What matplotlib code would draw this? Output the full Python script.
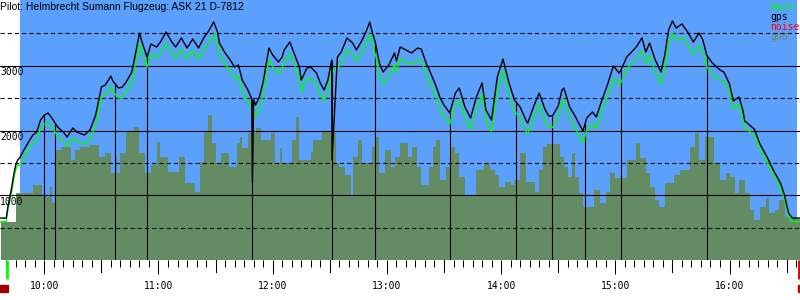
import matplotlib
matplotlib.use("Agg")
import matplotlib.pyplot as plt
from matplotlib.patches import Rectangle
import numpy as np

plt.rcParams["lines.scale_dashes"] = False

TITLE = "Pilot: Helmbrecht Sumann Flugzeug: ASK 21 D-7812"

# flight log: time, gps altitude, baro altitude (m)
log_time = ["09:37", "09:40", "09:41", "09:42", "09:43", "09:44", "09:45", "09:46",
            "09:47", "09:49", "09:52", "09:54", "09:56", "09:58", "10:00", "10:02",
            "10:04", "10:07", "10:10", "10:12", "10:15", "10:17", "10:21", "10:24",
            "10:27", "10:30", "10:32", "10:35", "10:36", "10:39", "10:41", "10:43",
            "10:46", "10:48", "10:50", "10:51", "10:54", "10:56", "10:59", "11:01",
            "11:04", "11:07", "11:09", "11:12", "11:15", "11:18", "11:21", "11:24",
            "11:26", "11:29", "11:31", "11:32", "11:35", "11:37", "11:40", "11:42",
            "11:44", "11:47", "11:49", "11:50", "11:51", "11:53", "11:55", "11:58",
            "12:00", "12:03", "12:05", "12:06", "12:09", "12:12", "12:14", "12:15",
            "12:18", "12:20", "12:23", "12:25", "12:27", "12:29", "12:31", "12:34",
            "12:36", "12:39", "12:42", "12:44", "12:47", "12:49", "12:51", "12:52",
            "12:54", "12:56", "12:58", "13:01", "13:04", "13:05", "13:07", "13:10",
            "13:13", "13:16", "13:18", "13:21", "13:23", "13:26", "13:28", "13:30",
            "13:33", "13:36", "13:38", "13:41", "13:44", "13:47", "13:50", "13:52",
            "13:55", "13:58", "14:01", "14:04", "14:07", "14:10", "14:13", "14:14",
            "14:17", "14:20", "14:23", "14:25", "14:27", "14:30", "14:32", "14:33",
            "14:36", "14:38", "14:41", "14:43", "14:45", "14:48", "14:50", "14:53",
            "14:56", "14:59", "15:02", "15:03", "15:06", "15:09", "15:11", "15:14",
            "15:16", "15:18", "15:21", "15:24", "15:26", "15:28", "15:30", "15:32",
            "15:35", "15:38", "15:41", "15:44", "15:46", "15:48", "15:51", "15:55",
            "15:57", "16:00", "16:02", "16:05", "16:07", "16:08", "16:13", "16:16",
            "16:20", "16:23", "16:27", "16:29", "16:31", "16:33", "16:37"]
gps_alt = [650, 650, 850, 990, 1145, 1330, 1470, 1546,
           1577, 1685, 1840, 1932, 1978, 2163, 2240, 2271,
           2194, 2055, 1978, 1901, 2040, 1978, 1932, 2009,
           2240, 2672, 2703, 2842, 2765, 2657, 2672, 2750,
           2904, 3197, 3506, 3398, 3135, 3336, 3290, 3367,
           3521, 3367, 3290, 3429, 3274, 3413, 3274, 3444,
           3521, 3676, 3521, 3351, 3197, 3120, 2981, 3012,
           2780, 2626, 2490, 2472, 2395, 2518, 2750, 3274,
           3166, 3058, 3135, 3243, 3367, 3135, 2981, 2780,
           2966, 2981, 2888, 2734, 2626, 2780, 3089, 3135,
           3212, 3429, 3351, 3243, 3398, 3521, 3676, 3552,
           3351, 3043, 2904, 3012, 3197, 3074, 3290, 3243,
           3197, 3274, 3259, 3012, 2888, 2672, 2503, 2395,
           2271, 2580, 2657, 2364, 2194, 2518, 2734, 2318,
           2163, 2827, 3104, 2750, 2472, 2364, 2163, 2117,
           2364, 2580, 2333, 2225, 2225, 2379, 2626, 2657,
           2364, 2271, 2102, 1994, 2194, 2287, 2210, 2472,
           2719, 2996, 2888, 2935, 3135, 3228, 3290, 3429,
           3212, 3351, 3089, 2904, 3166, 3552, 3691, 3583,
           3645, 3521, 3367, 3506, 3398, 3166, 3043, 2935,
           2904, 2719, 2457, 2518, 2318, 2148, 2025, 1793,
           1577, 1392, 1176, 991, 728, 651, 651]
baro_alt = [595, 595, 800, 930, 1080, 1260, 1400, 1470,
            1460, 1560, 1720, 1810, 1850, 2030, 2100, 2130,
            2060, 1910, 1830, 1760, 1890, 1830, 1790, 1860,
            2090, 2520, 2550, 2680, 2610, 2500, 2520, 2600,
            2750, 3040, 3340, 3240, 2980, 3170, 3130, 3200,
            3340, 3200, 3120, 3260, 3100, 3240, 3100, 3270,
            3340, 3490, 3340, 3180, 3020, 2950, 2810, 2840,
            2610, 2450, 2320, 2290, 2210, 2340, 2570, 3100,
            2990, 2880, 2960, 3070, 3190, 2960, 2800, 2610,
            2790, 2810, 2710, 2560, 2450, 2610, 2920, 2960,
            3040, 3250, 3170, 3070, 3220, 3340, 3490, 3370,
            3170, 2860, 2730, 2840, 3020, 2900, 3110, 3060,
            3020, 3090, 3080, 2840, 2710, 2500, 2330, 2220,
            2100, 2410, 2480, 2190, 2020, 2340, 2560, 2150,
            1990, 2650, 2920, 2570, 2300, 2190, 1990, 1950,
            2190, 2410, 2160, 2050, 2050, 2200, 2450, 2480,
            2190, 2090, 1920, 1810, 2010, 2110, 2030, 2290,
            2540, 2810, 2700, 2750, 2950, 3050, 3110, 3240,
            3030, 3170, 2900, 2720, 2980, 3360, 3500, 3390,
            3450, 3330, 3180, 3320, 3220, 2990, 2870, 2780,
            2760, 2600, 2340, 2400, 2210, 2040, 1930, 1710,
            1500, 1320, 1110, 930, 680, 595, 595]

# short gps drop-outs
spike_time = ["11:49:20", "12:31:10"]
spike_alt = [1207, 1546]

# terrain under the glider
gnd_time = ["09:37", "09:45", "09:54", "09:59", "10:03", "10:04", "10:06", "10:09",
            "10:14", "10:16", "10:19", "10:24", "10:29", "10:32", "10:35", "10:37",
            "10:38", "10:40", "10:43", "10:47", "10:50", "10:53", "10:56", "10:59",
            "11:01", "11:05", "11:11", "11:14", "11:19", "11:22", "11:24", "11:26",
            "11:28", "11:30", "11:33", "11:37", "11:41", "11:43", "11:44", "11:47",
            "11:51", "11:54", "11:59", "12:01", "12:04", "12:05", "12:10", "12:12",
            "12:14", "12:20", "12:21", "12:26", "12:30", "12:33", "12:35", "12:38",
            "12:41", "12:42", "12:45", "12:47", "12:52", "12:54", "12:56", "12:59",
            "13:02", "13:04", "13:07", "13:11", "13:13", "13:16", "13:18", "13:22",
            "13:24", "13:26", "13:28", "13:31", "13:33", "13:36", "13:38", "13:41",
            "13:47", "13:51", "13:54", "13:57", "13:59", "14:02", "14:05", "14:07",
            "14:10", "14:13", "14:18", "14:20", "14:22", "14:24", "14:31", "14:33",
            "14:35", "14:37", "14:39", "14:41", "14:43", "14:49", "14:52", "14:55",
            "14:57", "15:00", "15:06", "15:11", "15:13", "15:16", "15:18", "15:21",
            "15:23", "15:26", "15:31", "15:34", "15:39", "15:42", "15:44", "15:47",
            "15:52", "15:55", "15:58", "16:00", "16:03", "16:05", "16:08", "16:11",
            "16:13", "16:16", "16:19", "16:21", "16:24", "16:26", "16:29", "16:32",
            "16:37"]
gnd_alt = [595, 1040, 1160, 980, 1130, 880, 1700, 1750,
           1550, 1700, 1750, 1780, 1590, 1650, 1350, 1590,
           1350, 1650, 1980, 2060, 1650, 1350, 1470, 1820,
           1590, 1360, 1590, 1190, 1050, 1520, 1980, 2240,
           1810, 1500, 1650, 1440, 1810, 1900, 1730, 1960,
           2040, 1860, 1960, 1500, 1730, 1500, 1860, 2210,
           1550, 1670, 1860, 1980, 1960, 1500, 1440, 1310,
           980, 1590, 1860, 1500, 1750, 1900, 1350, 1700,
           1440, 1590, 1810, 1590, 1750, 1440, 1160, 1440,
           1750, 1860, 1240, 1440, 1750, 1650, 1280, 1010,
           1390, 1500, 1390, 1310, 1130, 1210, 1160, 1240,
           1650, 1210, 1050, 1390, 1750, 1790, 1590, 1440,
           1280, 1650, 1280, 1040, 820, 1080, 880, 1050,
           1350, 1270, 1550, 1810, 1580, 1350, 1130, 930,
           820, 1190, 1310, 1390, 1750, 1960, 1550, 1900,
           1500, 1240, 1350, 1280, 1040, 1240, 1040, 780,
           620, 820, 960, 730, 780, 930, 670, 640,
           640]

# vertical event marks
mark_time = ["10:00", "10:05:40", "10:37", "10:54", "11:49:20", "12:31:10", "12:54",
             "13:33", "14:08", "14:27", "14:44", "15:03", "15:48"]
takeoff = "09:40:34"
landing = "16:36:30"
sky_from, sky_to = "09:47:14", "16:35:30"

hour_ticks = [10, 11, 12, 13, 14, 15, 16]
hour_labels = ["10:00", "11:00", "12:00", "13:00", "14:00", "15:00", "16:00"]
grid_solid = [1000, 2000, 3000]
grid_dash = [500, 1500, 2500, 3500]

SKY = "#5aa0fc"
GND = "#648c64"
BARO_C = "#00ff00"
MONO = "DejaVu Sans Mono"


def hours(stamp):
    f = [int(p) for p in stamp.split(":")] + [0]
    return f[0] + f[1] / 60 + f[2] / 3600


def main():
    lt = np.array([hours(s) for s in log_time])
    gps = np.array(gps_alt, float)
    baro = np.array(baro_alt, float)
    gt = np.array([hours(s) for s in gnd_time])
    mt = np.array([hours(s) for s in mark_time])

    # gps with the drop-outs merged in
    st = np.array([hours(s) for s in spike_time])
    gt_all = np.concatenate([lt, st])
    gv_all = np.concatenate([gps, spike_alt])
    order = np.argsort(gt_all, kind="stable")

    fig = plt.figure(figsize=(8, 3), dpi=100)
    ax = fig.add_axes([0, 1 - 260.2 / 300, 1, 260.2 / 300])
    ax.set_facecolor("white")
    ax.set_xlim(9.6121, 16.6173)
    ax.set_ylim(0, 4015)
    for s in ax.spines.values():
        s.set_visible(False)

    ax.axvspan(hours(sky_from), hours(sky_to), color=SKY, lw=0, zorder=0)
    ax.fill_between(gt, gnd_alt, 0, step="post", color=GND, lw=0, zorder=1)

    for v in grid_solid:
        ax.axhline(v, color="k", lw=0.8, zorder=2)
    for v in grid_dash:
        ax.axhline(v, color="k", lw=0.8, dashes=(3, 2.2), zorder=2)

    ax.vlines(mt, 0, np.interp(mt, lt, gps), color="k", lw=0.8, zorder=3)
    ax.plot(lt, baro, color=BARO_C, lw=1.0, zorder=4)
    ax.plot(gt_all[order], gv_all[order], color="k", lw=1.0, zorder=5)

    # y labels sit just under their grid line
    for v in grid_solid:
        ax.annotate(str(v), xy=(0, v), xycoords=("axes fraction", "data"),
                    xytext=(0, -1.2), textcoords="offset points", ha="left",
                    va="top", family=MONO, fontsize=7, zorder=10)

    # time axis
    ax.set_yticks([])
    ax.set_xticks(hour_ticks)
    ax.set_xticklabels(hour_labels, family=MONO, fontsize=7)
    ax.set_xticks(np.arange(hours("09:40"), hours("16:36"), 5 / 60), minor=True)
    ax.tick_params(axis="x", which="major", direction="out", length=10,
                   width=0.75, pad=5, color="k")
    ax.tick_params(axis="x", which="minor", direction="out", length=5, width=0.75)
    tr = ax.get_xaxis_transform()
    for h in np.arange(10.5, 16.6, 1.0):
        ax.plot([h, h], [0, -12 / 260.2], transform=tr, color="k", lw=0.75,
                clip_on=False)
    ax.plot([hours(takeoff)] * 2, [0, -19 / 260.2], transform=tr,
            color=BARO_C, lw=2.0, clip_on=False, solid_capstyle="butt")
    ax.plot([hours(landing)] * 2, [0, -19 / 260.2], transform=tr,
            color="#e00000", lw=2.0, clip_on=False, solid_capstyle="butt")

    fig.patches.append(Rectangle((0, 8 / 300), 8 / 800, 7 / 300,
                                 transform=fig.transFigure, color="#a00000"))
    fig.patches.append(Rectangle((798 / 800, 8 / 300), 2 / 800, 7 / 300,
                                 transform=fig.transFigure, color="#d00000"))

    fig.text(0, 1 - 1.5 / 300, TITLE, ha="left", va="top",
             family="Liberation Sans", fontsize=7.5)
    for i, (name, col) in enumerate([("baro", BARO_C), ("gps", "k"),
                                     ("noise", "#ff0000"), ("gnd", "#6e8a62")]):
        fig.text(770 / 800, 1 - (7 + 10 * i) / 300, name, ha="left",
                 va="center", family=MONO, fontsize=7, color=col)

    fig.savefig("out.png", dpi=100)


if __name__ == "__main__":
    main()
